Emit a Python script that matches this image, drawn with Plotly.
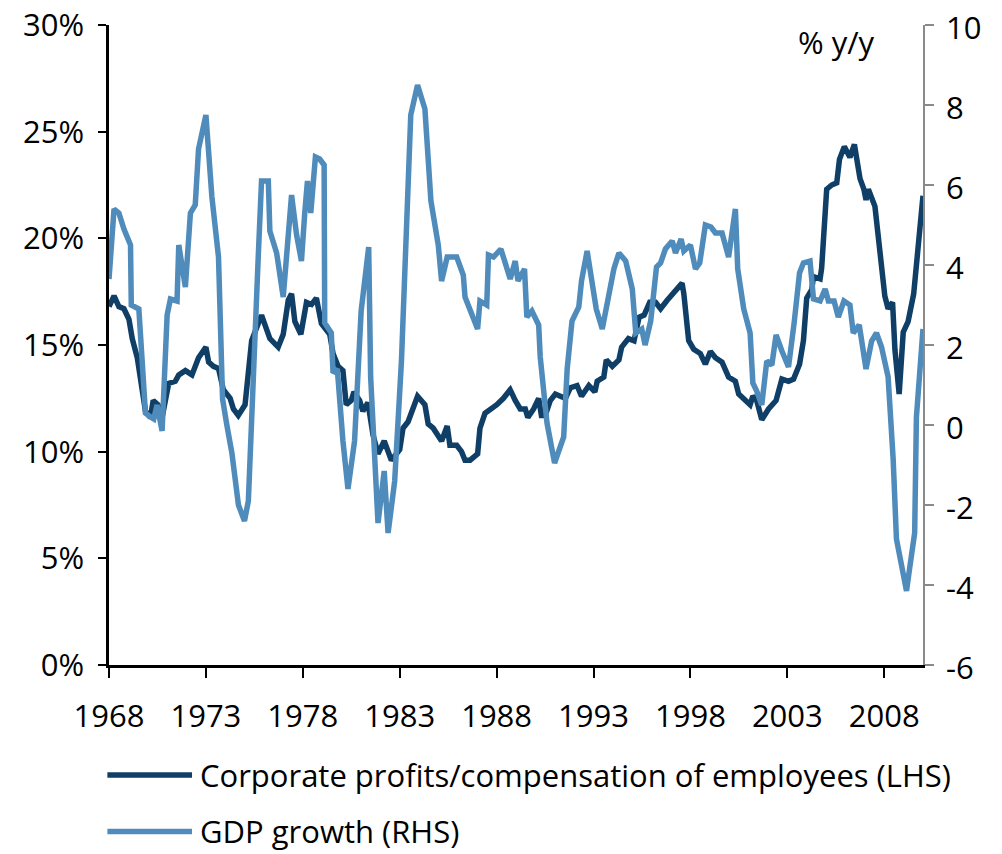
import plotly.graph_objects as go

# ---- Data ----
profit_years = [
    1968.00, 1968.26, 1968.51, 1968.77, 1969.03, 1969.20, 1969.46, 1969.63, 1969.88, 1970.14,
    1970.28, 1970.53, 1970.74, 1971.08, 1971.42, 1971.60, 1971.94, 1972.28, 1972.62, 1973.00,
    1973.14, 1973.39, 1973.65, 1973.90, 1974.25, 1974.42, 1974.67, 1975.02, 1975.36, 1975.87,
    1976.30, 1976.73, 1976.99, 1977.25, 1977.42, 1977.59, 1977.90, 1978.19, 1978.45, 1978.70,
    1978.96, 1979.39, 1979.56, 1979.82, 1980.07, 1980.24, 1980.50, 1980.64, 1980.93, 1981.10,
    1981.36, 1981.62, 1981.88, 1982.20, 1982.57, 1983.00, 1983.17, 1983.43, 1983.92, 1984.30,
    1984.47, 1984.73, 1985.16, 1985.45, 1985.59, 1985.94, 1986.19, 1986.37, 1986.63, 1987.02,
    1987.14, 1987.40, 1987.75, 1988.01, 1988.35, 1988.70, 1988.96, 1989.22, 1989.48, 1989.61,
    1989.91, 1990.17, 1990.31, 1990.51, 1990.77, 1991.03, 1991.29, 1991.55, 1991.81, 1992.15,
    1992.38, 1992.76, 1993.07, 1993.19, 1993.53, 1993.66, 1993.97, 1994.31, 1994.45, 1994.80,
    1995.09, 1995.35, 1995.61, 1995.90, 1996.20, 1996.46, 1996.80, 1997.06, 1997.23, 1997.57,
    1997.66, 1997.91, 1998.17, 1998.51, 1998.77, 1999.03, 1999.29, 1999.63, 1999.97, 2000.32,
    2000.49, 2000.83, 2001.08, 2001.22, 2001.42, 2001.68, 2002.03, 2002.42, 2002.72, 2003.06,
    2003.32, 2003.63, 2003.83, 2004.00, 2004.26, 2004.35, 2004.69, 2004.77, 2005.03, 2005.29,
    2005.55, 2005.69, 2005.94, 2006.23, 2006.46, 2006.75, 2006.95, 2007.06, 2007.18, 2007.52,
    2007.69, 2007.86, 2008.03, 2008.20, 2008.43, 2008.55, 2008.77, 2008.98, 2009.23, 2009.52,
    2009.74, 2010.00,
]
profit_share = [
    16.8, 17.3, 16.8, 16.7, 16.2, 15.3, 14.4, 13.3, 11.9, 11.6,
    12.4, 12.2, 11.6, 13.2, 13.3, 13.6, 13.8, 13.6, 14.4, 14.9,
    14.2, 14.0, 13.9, 12.9, 12.5, 12.0, 11.7, 12.2, 15.2, 16.4,
    15.3, 14.9, 15.5, 17.1, 17.4, 16.1, 15.5, 17.0, 16.9, 17.2,
    16.0, 15.5, 14.6, 14.0, 13.8, 12.2, 12.4, 12.8, 12.4, 11.9,
    12.3, 10.8, 9.9, 10.5, 9.6, 10.1, 11.1, 11.4, 12.6, 12.2,
    11.3, 11.1, 10.5, 11.2, 10.3, 10.3, 10.0, 9.6, 9.6, 9.9,
    11.1, 11.8, 12.0, 12.2, 12.5, 12.9, 12.4, 12.0, 12.0, 11.6,
    12.0, 12.5, 11.7, 11.7, 12.4, 12.7, 12.6, 12.5, 13.0, 13.1,
    12.6, 13.1, 12.8, 13.3, 13.5, 14.3, 14.0, 14.3, 14.9, 15.3,
    15.2, 16.3, 16.4, 17.0, 17.0, 16.7, 17.1, 17.4, 17.6, 17.9,
    17.4, 15.2, 14.8, 14.6, 14.1, 14.7, 14.4, 14.2, 13.5, 13.3,
    12.7, 12.4, 12.2, 12.6, 12.4, 11.5, 12.0, 12.4, 13.4, 13.3,
    13.4, 14.1, 15.2, 17.2, 17.6, 18.2, 18.1, 18.6, 22.3, 22.5,
    22.6, 23.7, 24.3, 23.8, 24.4, 22.8, 22.3, 21.8, 22.3, 21.5,
    20.0, 18.4, 17.3, 16.7, 17.0, 14.8, 12.7, 15.6, 16.1, 17.4,
    19.6, 22.0,
]

gdp_years = [
    1968.00, 1968.26, 1968.51, 1968.77, 1969.11, 1969.15, 1969.54, 1969.71, 1969.88, 1970.14,
    1970.31, 1970.48, 1970.74, 1971.00, 1971.17, 1971.51, 1971.60, 1971.94, 1972.20, 1972.45,
    1972.62, 1973.00, 1973.31, 1973.65, 1973.86, 1974.08, 1974.34, 1974.68, 1974.99, 1975.19,
    1975.45, 1975.70, 1975.87, 1976.22, 1976.30, 1976.65, 1976.99, 1977.16, 1977.42, 1977.68,
    1977.93, 1978.10, 1978.24, 1978.41, 1978.65, 1978.87, 1979.10, 1979.13, 1979.47, 1979.56,
    1979.78, 1980.07, 1980.33, 1980.67, 1981.01, 1981.40, 1981.50, 1981.88, 1982.20, 1982.40,
    1982.74, 1983.09, 1983.43, 1983.57, 1983.92, 1984.30, 1984.61, 1984.99, 1985.16, 1985.45,
    1985.94, 1986.28, 1986.37, 1986.63, 1987.02, 1987.14, 1987.49, 1987.58, 1987.84, 1988.22,
    1988.44, 1988.70, 1988.96, 1989.10, 1989.44, 1989.56, 1989.82, 1990.17, 1990.25, 1990.60,
    1990.99, 1991.46, 1991.64, 1991.89, 1992.24, 1992.38, 1992.67, 1992.93, 1993.14, 1993.45,
    1993.76, 1994.05, 1994.31, 1994.66, 1995.00, 1995.18, 1995.49, 1995.66, 1995.95, 1996.25,
    1996.46, 1996.71, 1997.06, 1997.23, 1997.52, 1997.66, 1998.00, 1998.26, 1998.48, 1998.77,
    1999.06, 1999.29, 1999.63, 1999.97, 2000.32, 2000.44, 2000.75, 2001.08, 2001.22, 2001.42,
    2001.68, 2001.94, 2002.20, 2002.42, 2002.72, 2003.06, 2003.35, 2003.63, 2003.83, 2004.17,
    2004.35, 2004.69, 2004.95, 2005.12, 2005.41, 2005.63, 2005.92, 2006.23, 2006.40, 2006.71,
    2007.06, 2007.35, 2007.60, 2007.86, 2008.20, 2008.46, 2008.63, 2008.89, 2009.15, 2009.32,
    2009.57, 2009.66, 2010.00,
]
gdp_growth = [
    3.65, 5.4, 5.3, 4.9, 4.5, 3.0, 2.9, 1.7, 0.3, 0.2,
    0.15, 0.5, -0.15, 2.75, 3.15, 3.1, 4.5, 3.45, 5.3, 5.5,
    6.9, 7.75, 5.7, 4.2, 0.65, 0.0, -0.7, -2.0, -2.4, -1.9,
    0.85, 4.2, 6.1, 6.1, 4.85, 4.3, 3.2, 4.4, 5.75, 4.75,
    4.1, 5.3, 6.1, 5.3, 6.7, 6.65, 6.5, 2.55, 2.3, 1.3,
    1.4, -0.4, -1.6, -0.4, 2.85, 4.45, 1.2, -2.45, -1.15, -2.7,
    -1.4, 1.6, 5.55, 7.75, 8.5, 7.9, 5.6, 4.5, 3.6, 4.2,
    4.2, 3.75, 3.2, 2.85, 2.4, 3.1, 3.0, 4.25, 4.2, 4.4,
    4.0, 3.65, 4.1, 3.6, 3.9, 2.7, 2.85, 2.5, 1.7, 0.05,
    -0.95, -0.3, 1.4, 2.6, 2.95, 3.6, 4.35, 3.5, 2.9, 2.4,
    3.2, 3.9, 4.3, 4.1, 3.4, 2.3, 2.4, 2.0, 2.6, 3.95,
    4.05, 4.4, 4.6, 4.3, 4.65, 4.35, 4.5, 3.9, 4.05, 5.0,
    4.95, 4.8, 4.8, 4.2, 5.4, 3.9, 2.9, 2.3, 1.05, 0.85,
    0.5, 1.6, 1.5, 2.25, 1.85, 1.45, 2.55, 3.8, 4.05, 4.1,
    3.15, 3.1, 3.4, 3.1, 3.1, 2.7, 3.1, 3.0, 2.3, 2.5,
    1.4, 2.1, 2.3, 1.95, 1.2, -0.85, -2.85, -3.45, -4.15, -3.55,
    -2.7, 0.2, 2.4,
]

year_ticks = [1968, 1973, 1978, 1983, 1988, 1993, 1998, 2003, 2008]
lhs_ticks = [0, 5, 10, 15, 20, 25, 30]
lhs_labels = ["0%", "5%", "10%", "15%", "20%", "25%", "30%"]
rhs_ticks = [-6, -4, -2, 0, 2, 4, 6, 8, 10]
rhs_labels = ["-6", "-4", "-2", "0", "2", "4", "6", "8", "10"]

profit_name = "Corporate profits/compensation of employees (LHS)"
gdp_name = "GDP growth (RHS)"

DARK = "#0f3e66"
LIGHT = "#4f8bbb"
FONT = "Open Sans"
FS = 31

fig = go.Figure()
fig.add_trace(go.Scatter(x=gdp_years, y=gdp_growth, name=gdp_name, mode="lines",
                         line=dict(color=LIGHT, width=5.5), yaxis="y2", showlegend=False))
fig.add_trace(go.Scatter(x=profit_years, y=profit_share, name=profit_name, mode="lines",
                         line=dict(color=DARK, width=5.5), yaxis="y", showlegend=False))

fig.update_layout(
    width=1002, height=854,
    paper_bgcolor="white", plot_bgcolor="white",
    margin=dict(l=109, r=79, t=25, b=189, autoexpand=False),
    font=dict(family=FONT, size=FS, color="black"),
    xaxis=dict(range=[1968, 2010], tickvals=year_ticks, ticktext=[str(y) for y in year_ticks],
               showline=True, linecolor="black", linewidth=2.5, ticks="outside", ticklen=10,
               tickwidth=2, tickcolor="black", showgrid=False, zeroline=False,
               ticklabelstandoff=12, tickfont=dict(size=FS), automargin=False),
    yaxis=dict(range=[0, 30], tickvals=lhs_ticks, ticktext=lhs_labels, showline=True,
               linecolor="black", linewidth=2.5, ticks="outside", ticklen=8, tickwidth=2,
               tickcolor="black", showgrid=False, zeroline=False, ticklabelstandoff=8,
               tickfont=dict(size=FS), automargin=False),
    yaxis2=dict(range=[-6, 10], tickvals=rhs_ticks, overlaying="y",
                side="right", showline=True, linecolor="#8a8a8a", linewidth=1.5,
                ticks="outside", ticklen=9, tickwidth=1.5, tickcolor="#8a8a8a",
                showgrid=False, zeroline=False, showticklabels=False, automargin=False),
)

# Right-hand axis labels, left-aligned next to the axis
for val, lab in zip(rhs_ticks, rhs_labels):
    fig.add_annotation(text=lab, xref="paper", yref="y2", x=1.0258, y=val,
                       showarrow=False, xanchor="left", yanchor="middle", yshift=-2,
                       font=dict(size=FS, family=FONT, color="black"))

fig.add_annotation(text="% y/y", xref="paper", yref="paper", x=0.894, y=0.973,
                   showarrow=False, xanchor="center", yanchor="middle",
                   font=dict(size=FS, family=FONT, color="black"))

# Legend drawn below the plot area
legend_items = [(profit_name, DARK, -0.172), (gdp_name, LIGHT, -0.26)]
for name, color, ypos in legend_items:
    fig.add_shape(type="line", xref="paper", yref="paper", x0=-0.002, x1=0.102,
                  y0=ypos, y1=ypos, line=dict(color=color, width=5.5))
    fig.add_annotation(text=name, xref="paper", yref="paper", x=0.109, y=ypos,
                       showarrow=False, xanchor="left", yanchor="middle",
                       font=dict(size=FS, family=FONT, color="black"))

fig.write_html("out.html", config={"displayModeBar": False},
               post_script="document.body.style.margin='0';document.body.style.overflow='hidden';")
